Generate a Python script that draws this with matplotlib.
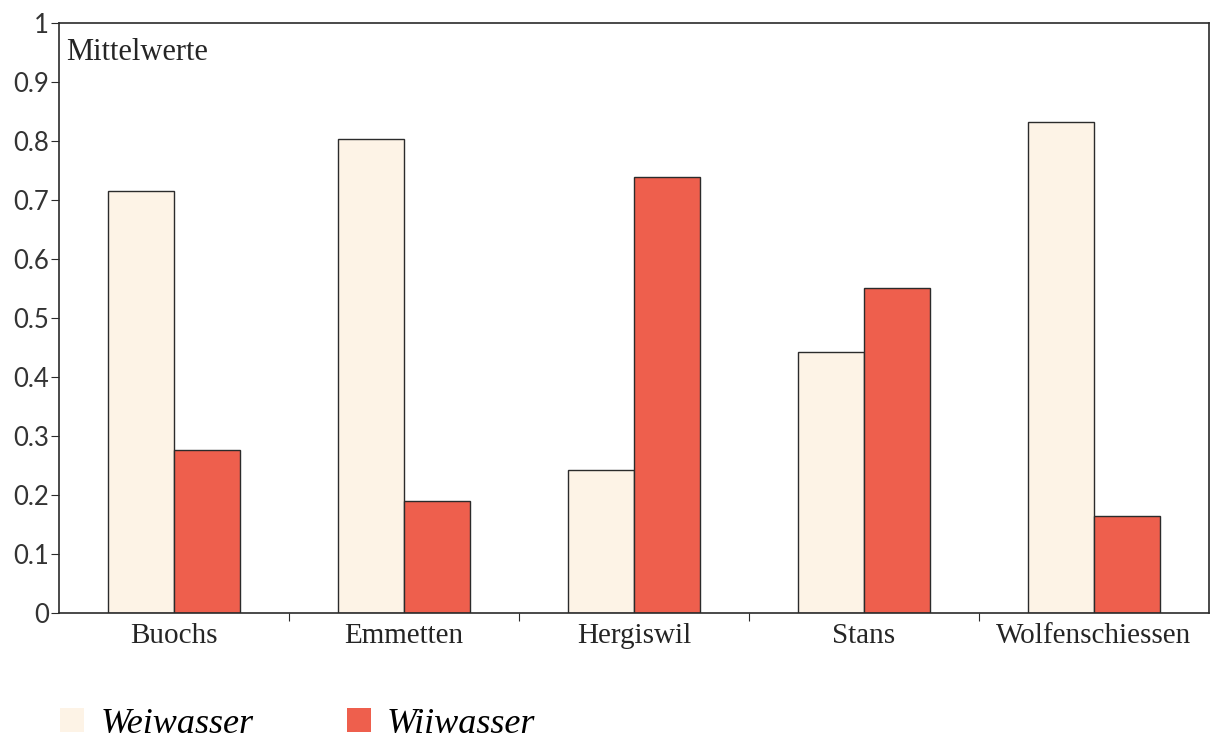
import numpy as np
import matplotlib.pyplot as plt
from matplotlib.patches import Patch

orte = ['Buochs', 'Emmetten', 'Hergiswil', 'Stans', 'Wolfenschiessen']
weiwasser = [0.715, 0.803, 0.243, 0.442, 0.832]
wiiwasser = [0.277, 0.189, 0.739, 0.551, 0.165]
yticks = [0, 0.1, 0.2, 0.3, 0.4, 0.5, 0.6, 0.7, 0.8, 0.9, 1]
ytick_labels = ['0', '0.1', '0.2', '0.3', '0.4', '0.5', '0.6', '0.7', '0.8', '0.9', '1']

col_wei = '#fdf3e6'
col_wii = '#ee5f4d'
edge = '#2b2b2b'
txt = '#252525'

fig = plt.figure(figsize=(12.13, 7.45), dpi=100)
ax = fig.add_axes([0.0486, 0.1772, 0.9481, 0.7918])

x = np.arange(len(orte))
w = 0.287
ax.bar(x - w/2, weiwasser, w, color=col_wei, edgecolor=edge, linewidth=1.0)
ax.bar(x + w/2, wiiwasser, w, color=col_wii, edgecolor=edge, linewidth=1.0)

ax.set_xlim(-0.5, len(orte) - 0.5)
ax.set_ylim(0, 1)

# category labels sit between the boundary ticks
ax.set_xticks(np.arange(0.5, len(orte) - 0.5, 1.0))
ax.set_xticklabels([])
ax.tick_params(axis='x', length=6, direction='out', color=edge)
for i, name in enumerate(orte):
    ax.text(i, -0.039, name, ha='center', va='center', fontsize=21,
            family='Liberation Serif', color=txt)

ax.set_yticks(yticks)
ax.set_yticklabels(ytick_labels, fontsize=18.5, family='Lato', color='#333333')
ax.tick_params(axis='y', length=6, direction='out', color=edge, pad=1)

for s in ax.spines.values():
    s.set_color(edge)
    s.set_linewidth(1.2)

ax.text(0.006, 0.975, 'Mittelwerte', transform=ax.transAxes, ha='left', va='top',
        fontsize=22, family='Liberation Serif', color=txt)

handles = [Patch(facecolor=col_wei, edgecolor='none', label='Weiwasser'),
           Patch(facecolor=col_wii, edgecolor='none', label='Wiiwasser')]
fig.legend(handles=handles, loc='center left', bbox_to_anchor=(0.0495, 0.028),
           ncol=2, frameon=False, borderpad=0, borderaxespad=0,
           handlelength=0.67, handleheight=0.62,
           handletextpad=0.45, columnspacing=2.58,
           prop={'family': 'Liberation Serif', 'style': 'italic', 'size': 26})

fig.savefig('out.png', dpi=100)
